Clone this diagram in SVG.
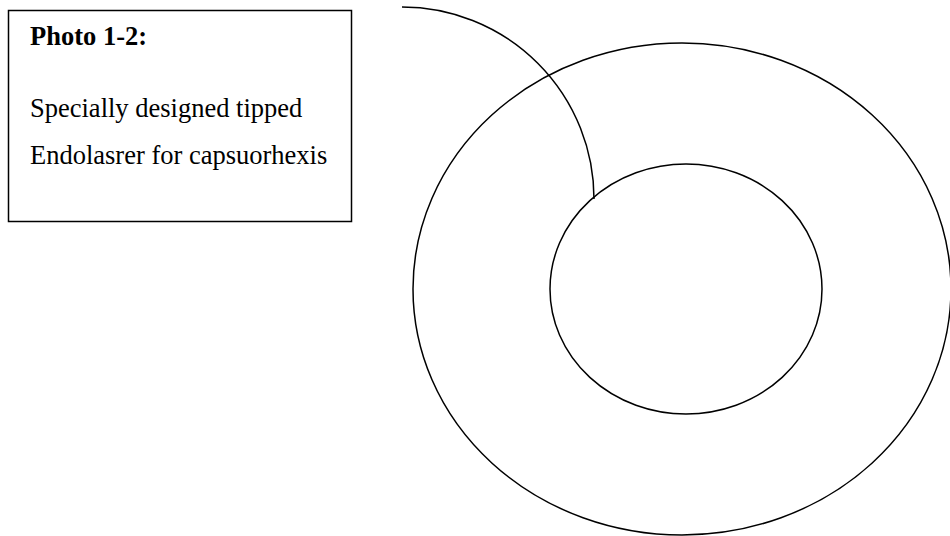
<svg xmlns="http://www.w3.org/2000/svg" width="950" height="536" viewBox="0 0 950 536">
<style>
.ln{fill:none;stroke:#000;stroke-width:1.5}
.t{font-family:"Liberation Serif","Times New Roman",serif;font-size:26.5px;fill:#000}
.b{font-weight:bold}
</style>
<rect width="950" height="536" fill="#fff"/>
<g id="caption">
<rect x="8.5" y="10.5" width="343" height="211" class="ln"/>
<text class="t b" x="30" y="45">Photo 1-2:</text>
<text class="t" x="30" y="117">Specially designed tipped</text>
<text class="t" x="30" y="163.5">Endolasrer for capsuorhexis</text>
</g>
<g id="outer">
<ellipse cx="682" cy="289" rx="269" ry="246" class="ln"/>
</g>
<g id="inner">
<ellipse cx="686" cy="289" rx="136" ry="125" class="ln"/>
</g>
<g id="connectors">
<path d="M402,7 A192,192 0 0 1 594,199" class="ln"/>
</g>
</svg>
